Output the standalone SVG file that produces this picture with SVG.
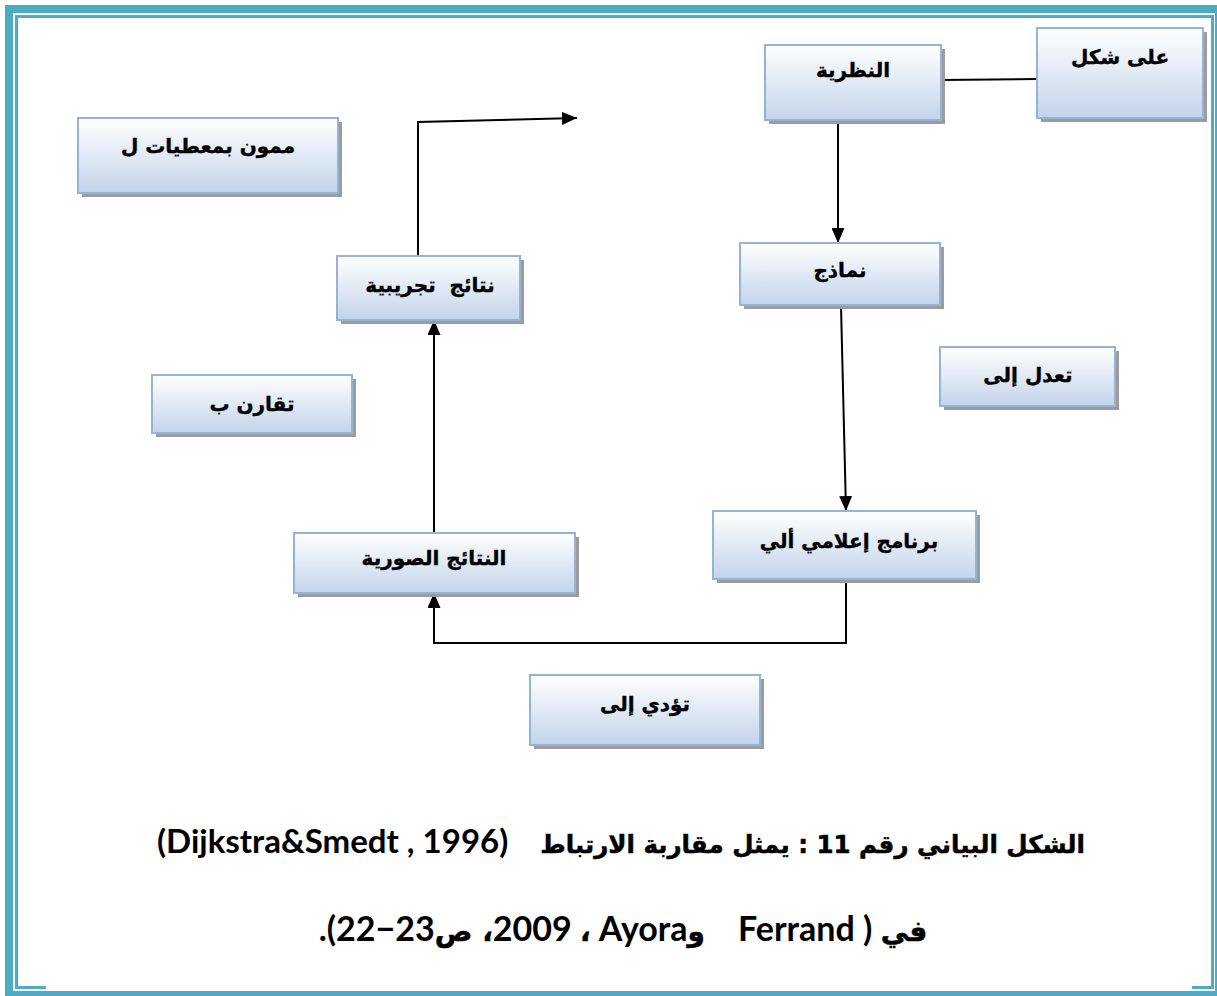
<svg xmlns="http://www.w3.org/2000/svg" width="1217" height="996" viewBox="0 0 1217 996">
  <defs>
    <linearGradient id="boxFill" x1="0" y1="0" x2="0" y2="1">
      <stop offset="0" stop-color="#ffffff"/>
      <stop offset="1" stop-color="#c3d4ea"/>
    </linearGradient>
    <marker id="arrow" viewBox="0 0 15 13" refX="15" refY="6.5" markerWidth="15" markerHeight="13" markerUnits="userSpaceOnUse" orient="auto">
      <path d="M0,0 L15,6.5 L0,13 Z" fill="#000"/>
    </marker>
  </defs>
  <style>
    .shadow { fill: #9c9c9c; }
    .box { fill: url(#boxFill); stroke: #95b3d7; stroke-width: 2; }
    .label { font-family: "DejaVu Sans", "Liberation Sans", sans-serif; font-weight: bold; font-size: 20px; fill: #000; stroke: #000; stroke-width: 0.4; text-anchor: middle; direction: rtl; white-space: pre; }
    .caption { font-family: "Lato", "DejaVu Sans", sans-serif; font-weight: bold; fill: #000; text-anchor: middle; direction: rtl; white-space: pre; }
    .ar { font-family: "DejaVu Sans", sans-serif; stroke: #000; stroke-width: 0.5; }
    .wire { fill: none; stroke: #000; stroke-width: 2; }
    .frame { fill: #4bacc6; }
  </style>

  <rect width="1217" height="996" fill="#ffffff"/>

  <!-- page frame: thick outer band and thin inner rule -->
  <g id="frame">
    <rect class="frame" x="5" y="5" width="1212" height="8"/>
    <rect class="frame" x="5" y="5" width="8" height="991"/>
    <rect class="frame" x="13" y="991" width="1204" height="5"/>
    <rect class="frame" x="1215" y="5" width="2" height="991"/>
    <rect class="frame" x="15" y="15" width="1198" height="3"/>
    <rect class="frame" x="15" y="15" width="3" height="974"/>
    <rect class="frame" x="1211" y="15" width="3" height="974"/>
    <rect class="frame" x="15" y="986" width="31" height="3"/>
    <rect class="frame" x="1192" y="986" width="22" height="3"/>
  </g>

  <!-- connectors -->
  <g id="connectors">
    <line class="wire" x1="941" y1="80" x2="1037" y2="79"/>
    <line class="wire" x1="838" y1="121" x2="838" y2="243" marker-end="url(#arrow)"/>
    <line class="wire" x1="841" y1="306" x2="846" y2="511" marker-end="url(#arrow)"/>
    <polyline class="wire" points="846,580 846,643 434,643 434,593" marker-end="url(#arrow)"/>
    <line class="wire" x1="434" y1="533" x2="434" y2="320" marker-end="url(#arrow)"/>
    <polyline class="wire" points="418,256 418,122 577,118" marker-end="url(#arrow)"/>
  </g>

  <g id="node-theory">
    <rect class="shadow" x="769" y="49" width="176" height="75"/>
    <rect class="box" x="765" y="45" width="176" height="75"/>
    <text class="label" x="853" y="77">النظرية</text>
  </g>

  <g id="node-shape">
    <rect class="shadow" x="1041" y="32" width="166" height="90"/>
    <rect class="box" x="1037" y="28" width="166" height="90"/>
    <text class="label" x="1120" y="64">على شكل</text>
  </g>

  <g id="node-supplied">
    <rect class="shadow" x="82" y="122" width="260" height="75"/>
    <rect class="box" x="78" y="118" width="260" height="75"/>
    <text class="label" x="208" y="153">ممون بمعطيات ل</text>
  </g>

  <g id="node-experimental">
    <rect class="shadow" x="341" y="260" width="183" height="64"/>
    <rect class="box" x="337" y="256" width="183" height="64"/>
    <text class="label" x="430" y="292">نتائج  تجريبية</text>
  </g>

  <g id="node-models">
    <rect class="shadow" x="744" y="247" width="200" height="62"/>
    <rect class="box" x="740" y="243" width="200" height="62"/>
    <text class="label" x="840" y="277">نماذج</text>
  </g>

  <g id="node-adjust">
    <rect class="shadow" x="944" y="351" width="175" height="59"/>
    <rect class="box" x="940" y="347" width="175" height="59"/>
    <text class="label" x="1028" y="382">تعدل إلى</text>
  </g>

  <g id="node-compare">
    <rect class="shadow" x="156" y="379" width="200" height="58"/>
    <rect class="box" x="152" y="375" width="200" height="58"/>
    <text class="label" x="252" y="411">تقارن ب</text>
  </g>

  <g id="node-program">
    <rect class="shadow" x="717" y="515" width="263" height="68"/>
    <rect class="box" x="713" y="511" width="263" height="68"/>
    <text class="label" x="849" y="548">برنامج إعلامي ألي</text>
  </g>

  <g id="node-formal">
    <rect class="shadow" x="298" y="537" width="281" height="60"/>
    <rect class="box" x="294" y="533" width="281" height="60"/>
    <text class="label" x="434" y="565">النتائج الصورية</text>
  </g>

  <g id="node-leads">
    <rect class="shadow" x="534" y="679" width="230" height="70"/>
    <rect class="box" x="530" y="675" width="230" height="70"/>
    <text class="label" x="645" y="711">تؤدي إلى</text>
  </g>

  <!-- caption -->
  <g id="caption">
    <text class="caption" x="621" y="853" font-size="33"><tspan class="ar" font-size="24.5">الشكل البياني رقم 11 : يمثل مقاربة الارتباط</tspan>    (Dijkstra&amp;Smedt , 1996)</text>
    <text class="caption" x="623" y="941" font-size="34"><tspan class="ar" font-size="28">في</tspan> ( Ferrand    <tspan class="ar" font-size="28">و</tspan>Ayora&#x200F; <tspan class="ar" font-size="28">،</tspan> 2009<tspan class="ar" font-size="28">، ص</tspan>23−22).</text>
  </g>
</svg>
